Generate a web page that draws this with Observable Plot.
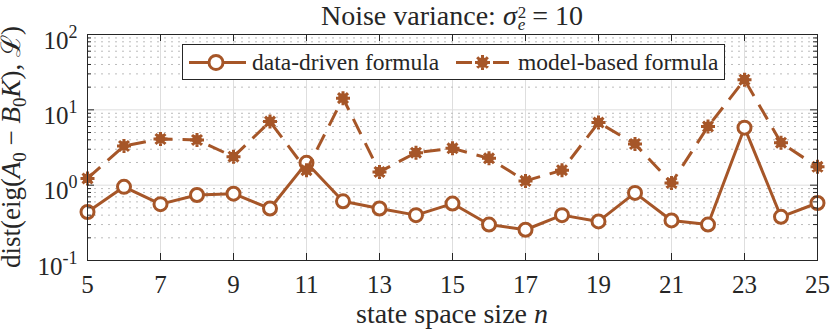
<!DOCTYPE html>
<html>
<head>
<meta charset="utf-8">
<script src="https://cdn.jsdelivr.net/npm/d3@7"></script>
<script src="https://cdn.jsdelivr.net/npm/@observablehq/plot@0.6"></script>
<style>
  html, body { margin: 0; padding: 0; background: #fff; }
  #wrap { width: 830px; height: 331px; overflow: hidden; }
</style>
</head>
<body>
<div id="wrap"></div>
<script>
// ---- data ----
const stateSize = [5, 6, 7, 8, 9, 10, 11, 12, 13, 14, 15, 16, 17, 18, 19, 20, 21, 22, 23, 24, 25];
const dataDriven = [0.44, 0.95, 0.56, 0.74, 0.77, 0.49, 1.98, 0.61, 0.49, 0.40, 0.57, 0.30, 0.256, 0.40, 0.33, 0.79, 0.34, 0.30, 5.8, 0.38, 0.58];
const modelBased = [1.23, 3.31, 4.1, 3.98, 2.39, 6.98, 1.58, 14.3, 1.5, 2.7, 3.08, 2.27, 1.14, 1.58, 6.78, 3.52, 1.07, 6.0, 25.1, 3.66, 1.75];
const seriesNames = ["data-driven formula", "model-based formula"];
const xTicks = [5, 7, 9, 11, 13, 15, 17, 19, 21, 23, 25];
const yTicks = [0.1, 1, 10, 100];
const yTickLabels = ["10^-1", "10^0", "10^1", "10^2"];
const yMinor = [0.2, 0.3, 0.4, 0.5, 0.6, 0.7, 0.8, 0.9, 2, 3, 4, 5, 6, 7, 8, 9, 20, 30, 40, 50, 60, 70, 80, 90];

const color = "#a65628";
const ink = "#262626";
const fam = '"Liberation Serif", "Times New Roman", serif';

const rows = stateSize.map((n, i) => ({n, dd: dataDriven[i], mb: modelBased[i]}));

// MATLAB-like '*' marker drawn with a thick stroke: plus + times + small core
const starSymbol = {
  draw(ctx, size) {
    const r = Math.sqrt(size / Math.PI);
    const d = r * Math.SQRT1_2;
    ctx.moveTo(-r, 0); ctx.lineTo(r, 0);
    ctx.moveTo(0, -r); ctx.lineTo(0, r);
    ctx.moveTo(-d, -d); ctx.lineTo(d, d);
    ctx.moveTo(-d, d); ctx.lineTo(d, -d);
    const c = r * 0.5;
    ctx.moveTo(c, 0); ctx.arc(0, 0, c, 0, 2 * Math.PI);
  }
};

const W = 830, H = 331, mL = 87, mR = 13, mT = 34, mB = 71;
const pw = W - mL - mR, ph = H - mT - mB;

const svg = Plot.plot({
  width: W, height: H,
  marginLeft: mL, marginRight: mR, marginTop: mT, marginBottom: mB,
  style: {fontFamily: fam, fontSize: "25px", color: ink, background: "#fff"},
  x: {domain: [5, 25]},
  y: {type: "log", domain: [0.1, 100]},
  marks: [
    Plot.ruleX(xTicks, {x: d => d, stroke: "#dedede"}),
    Plot.ruleY(yMinor, {y: d => d, stroke: "#bcbcbc", strokeDasharray: "2,5"}),
    Plot.ruleY(yTicks, {y: d => d, stroke: "#dedede"}),
    // data-driven
    Plot.line(rows, {x: "n", y: "dd", stroke: color, strokeWidth: 3}),
    Plot.dot(rows, {x: "n", y: "dd", r: 6.5, stroke: color, strokeWidth: 3, fill: "#fff"}),
    // model-based
    Plot.line(rows, {x: "n", y: "mb", stroke: color, strokeWidth: 3, strokeDasharray: "17,10", strokeLinecap: "butt"}),
    Plot.dot(rows, {x: "n", y: "mb", r: 7, symbol: starSymbol, stroke: color, strokeWidth: 3, fill: color, strokeLinecap: "butt"}),
    // inward ticks
    Plot.tickX(xTicks, {x: d => d, stroke: ink, insetTop: ph - 7}),
    Plot.tickX(xTicks, {x: d => d, stroke: ink, insetBottom: ph - 7}),
    Plot.tickY(yTicks, {y: d => d, stroke: ink, insetRight: pw - 7}),
    Plot.tickY(yTicks, {y: d => d, stroke: ink, insetLeft: pw - 7}),
    Plot.tickY(yMinor, {y: d => d, stroke: ink, insetRight: pw - 4}),
    Plot.tickY(yMinor, {y: d => d, stroke: ink, insetLeft: pw - 4}),
    Plot.axisX({ticks: xTicks, tickSize: 0, tickPadding: 15, fontSize: 25, fill: ink, label: null}),
    Plot.axisY({ticks: yTicks, tickSize: 0, tickPadding: 10, fontSize: 25, fill: ink, label: null, dy: 6,
      tickFormat: d => yTickLabels[yTicks.indexOf(d)]}),
    Plot.frame({stroke: ink})
  ]
});

const s = d3.select(svg);

// superscript exponents on y tick labels
s.selectAll('g[aria-label="y-axis tick label"] text').each(function () {
  const t = d3.select(this);
  const [base, exp] = t.text().split("^");
  t.text(null);
  t.append("tspan").text(base);
  t.append("tspan").attr("font-size", 18).attr("dy", -11).text(exp);
});

// title
const title = s.append("text").attr("x", (mL + W - mR) / 2).attr("y", 25)
  .attr("text-anchor", "middle").attr("font-family", fam).attr("font-size", 28).attr("fill", ink);
title.append("tspan").text("Noise variance: ");
title.append("tspan").attr("font-style", "italic").text("σ");
title.append("tspan").attr("font-size", 17).attr("dx", 1).attr("dy", -7).text("2");
title.append("tspan").attr("font-size", 17).attr("font-style", "italic").attr("dx", -8.5).attr("dy", 12).text("e");
title.append("tspan").attr("dy", -5).text(" = 10");

// x label
const xl = s.append("text").attr("x", (mL + W - mR) / 2).attr("y", 323)
  .attr("text-anchor", "middle").attr("font-family", fam).attr("font-size", 28).attr("fill", ink);
xl.append("tspan").text("state space size ");
xl.append("tspan").attr("font-style", "italic").text("n");

// y label
const yl = s.append("text").attr("transform", `translate(20,${(mT + H - mB) / 2}) rotate(-90)`)
  .attr("text-anchor", "middle").attr("font-family", fam).attr("font-size", 27).attr("fill", ink);
yl.append("tspan").text("dist(eig(");
yl.append("tspan").attr("font-style", "italic").text("A");
yl.append("tspan").attr("font-size", 19).attr("dy", 6).text("0");
yl.append("tspan").attr("dy", -6).text(" − ");
yl.append("tspan").attr("font-style", "italic").text("B");
yl.append("tspan").attr("font-size", 19).attr("dy", 6).text("0");
yl.append("tspan").attr("font-style", "italic").attr("dy", -6).text("K");
yl.append("tspan").text("), ");
yl.append("tspan").text("ℒ");
yl.append("tspan").text(")");

// legend
const lg = s.append("g").attr("font-family", fam).attr("font-size", 23.5).attr("fill", ink)
  .attr("text-anchor", "start");
lg.append("rect").attr("x", 182.5).attr("y", 44.5).attr("width", 542).attr("height", 35)
  .attr("fill", "#fff").attr("stroke", ink);
const ly = 62.5;
lg.append("line").attr("x1", 189).attr("x2", 246).attr("y1", ly).attr("y2", ly)
  .attr("stroke", color).attr("stroke-width", 3);
lg.append("circle").attr("cx", 216).attr("cy", ly).attr("r", 7)
  .attr("fill", "#fff").attr("stroke", color).attr("stroke-width", 3);
lg.append("text").attr("x", 252).attr("y", 70).text(seriesNames[0]);
lg.append("line").attr("x1", 456).attr("x2", 472).attr("y1", ly).attr("y2", ly)
  .attr("stroke", color).attr("stroke-width", 3);
lg.append("line").attr("x1", 493).attr("x2", 509).attr("y1", ly).attr("y2", ly)
  .attr("stroke", color).attr("stroke-width", 3);
{
  const r = 7.5, d = r * Math.SQRT1_2, c = r * 0.5;
  lg.append("path").attr("transform", `translate(482.5,${ly})`)
    .attr("d", `M${-r},0L${r},0M0,${-r}L0,${r}M${-d},${-d}L${d},${d}M${-d},${d}L${d},${-d}M${c},0A${c},${c} 0 1,1 ${-c},0A${c},${c} 0 1,1 ${c},0Z`)
    .attr("stroke", color).attr("stroke-width", 3).attr("fill", color);
}
lg.append("text").attr("x", 518).attr("y", 70).text(seriesNames[1]);

document.getElementById("wrap").appendChild(svg);
</script>
</body>
</html>
